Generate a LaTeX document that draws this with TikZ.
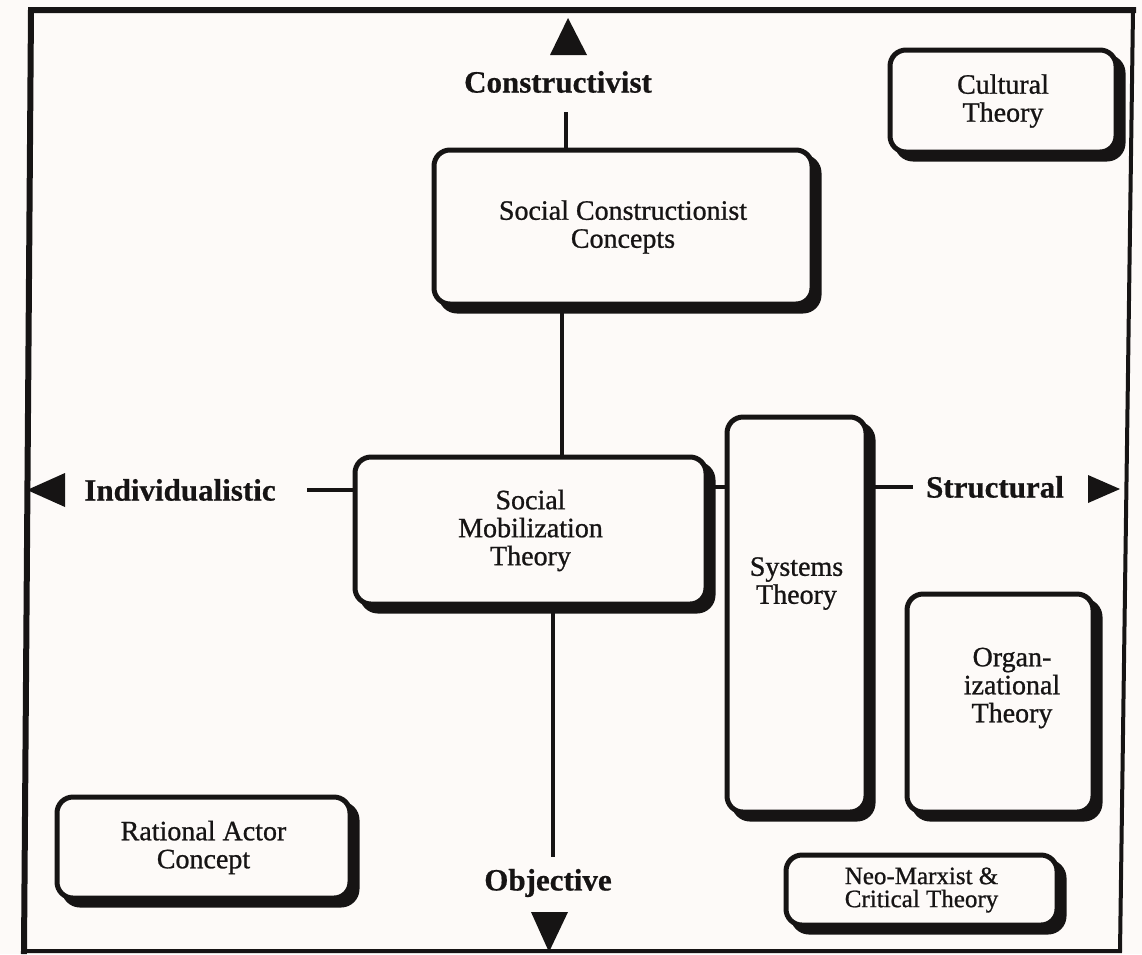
\documentclass[tikz,border=0pt]{standalone}
\usepackage{fontspec}
\setmainfont{Liberation Serif}
\newfontfamily\boxfont[FakeBold=0.9]{Liberation Serif}
\newfontfamily\axisfont[FakeBold=0.6]{Liberation Serif Bold}
\usetikzlibrary{shadows}
\definecolor{paper}{RGB}{253,250,248}
\definecolor{ink}{RGB}{22,20,20}
\begin{document}
\begin{tikzpicture}[x=1pt,y=-1pt,
  sbox/.style={draw=ink, line width=5pt, rounded corners=16pt, fill=paper, inner sep=0pt,
    align=center, text=ink, font=\boxfont\fontsize{28}{28}\selectfont,
    drop shadow={shadow xshift=7pt, shadow yshift=-7pt, fill=ink, draw=ink, line width=5pt, opacity=1}},
  axislbl/.style={font=\axisfont\fontsize{31}{31}\selectfont, text=ink, inner sep=0pt},
  btext/.style={font=\boxfont\fontsize{28}{28}\selectfont, text=ink, align=center, inner sep=0pt},
  conn/.style={draw=ink, line width=4pt},
  tip/.style={fill=ink}
]
\useasboundingbox (0,0) rectangle (1142,954);
\fill[paper] (0,0) rectangle (1142,954);

% frame
\draw[ink, line width=6pt, line cap=rect] (24,951) -- (31,10) -- (1133,10);
\draw[ink, line width=4pt, line cap=rect] (1133,10) -- (1120,951) -- (24,951);

% boxes
\node[sbox, minimum width=378, minimum height=154] (scc) at (623,227) {Social Constructionist\\Concepts};
\node[sbox, minimum width=351, minimum height=147] (smt) at (530.5,530.5) {Social\\Mobilization\\Theory};
\node[sbox, minimum width=139, minimum height=395] (sys) at (796.5,614.5) {};
\node[btext] (sysT) at ([yshift=31pt]sys.center) {Systems\\Theory};
\node[sbox, minimum width=226, minimum height=102] (cult) at (1003,101) {Cultural\\Theory};
\node[sbox, minimum width=186, minimum height=218] (org) at (1000,703) {};
\node[btext] (orgT) at ([xshift=12pt,yshift=15pt]org.center) {Organ-\\izational\\Theory};
\node[sbox, minimum width=271, minimum height=70, font=\boxfont\fontsize{25}{23}\selectfont] (neo) at (921.5,890) {Neo-Marxist \&\\Critical Theory};
\node[sbox, minimum width=293, minimum height=101] (rat) at (203.5,847.5) {Rational Actor\\Concept};

% axis labels
\node[axislbl] (lC) at (558,82) {Constructivist};
\node[axislbl] (lI) at (180,490) {Individualistic};
\node[axislbl] (lS) at (995,487) {Structural};
\node[axislbl] (lO) at (548,883) {Objective};

% connectors
\coordinate (cT) at (566,112);
\draw[conn] (cT) -- (cT |- scc.north);
\coordinate (cM) at (562,0);
\draw[conn] (cM |- scc.south) -- (cM |- smt.north);
\coordinate (cI) at (307,490);
\draw[conn] (cI) -- (cI -| smt.west);
\draw[conn] (smt.east |- lS) -- (sys.west |- lS);
\coordinate (cS) at (913,487);
\draw[conn] (sys.east |- cS) -- (cS);
\coordinate (cO) at (553,857);
\draw[conn] (cO |- smt.south) -- (cO);

% arrowheads
\fill[tip] (568,18) -- (587,55) -- (550,55) -- cycle;
\fill[tip] (27,490) -- (65,473) -- (65,507) -- cycle;
\fill[tip] (1120,489) -- (1088,475) -- (1088,503) -- cycle;
\fill[tip] (549,952) -- (531,912) -- (568,912) -- cycle;
\end{tikzpicture}
\end{document}
